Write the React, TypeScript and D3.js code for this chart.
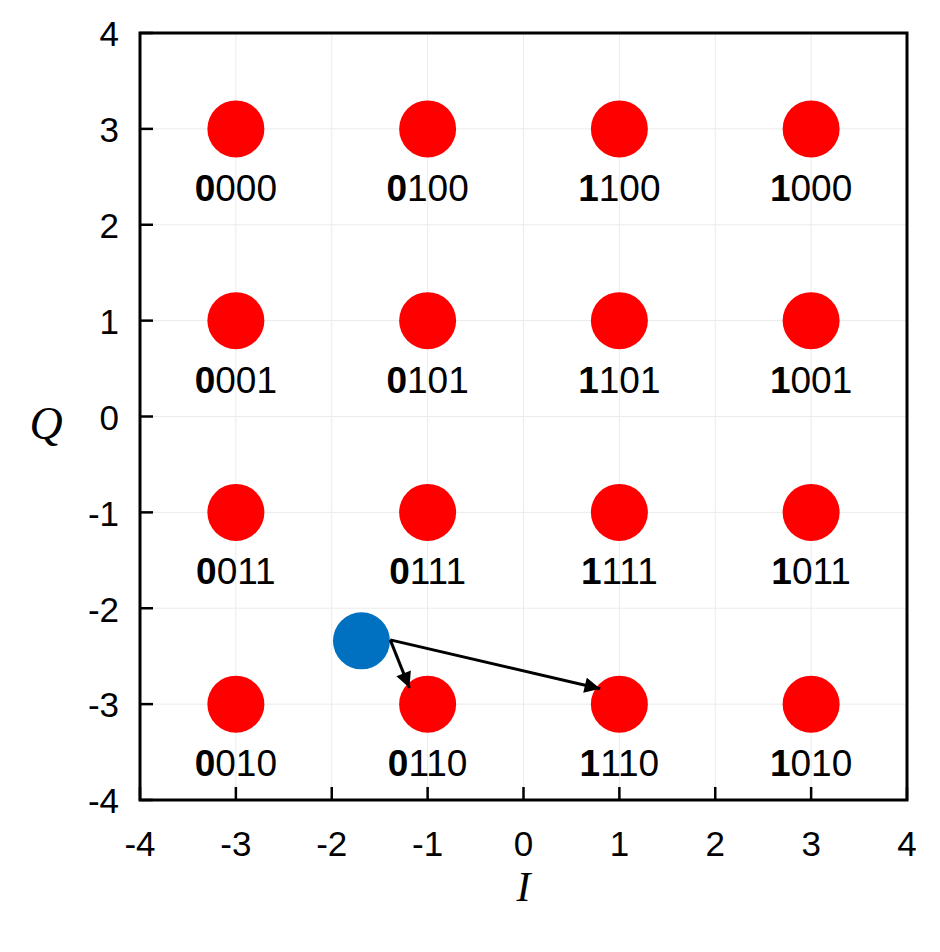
import * as d3 from "d3";

// constellation grid
const iLevels = [-3, -1, 1, 3];
const qLevels = [3, 1, -1, -3];
const bitLabels = [
  ["0000", "0100", "1100", "1000"],
  ["0001", "0101", "1101", "1001"],
  ["0011", "0111", "1111", "1011"],
  ["0010", "0110", "1110", "1010"],
];

// received symbol and the arrows to nearby points
const received = { i: -1.69, q: -2.34 };
const arrows = [
  { from: [-1.39, -2.33], to: [-1.19, -2.83] },
  { from: [-1.39, -2.33], to: [0.8, -2.84] },
];

const ticks = [-4, -3, -2, -1, 0, 1, 2, 3, 4];

export default function App() {
  const W = 940, H = 952;
  const x = d3.scaleLinear().domain([-4, 4]).range([140, 907]);
  const y = d3.scaleLinear().domain([-4, 4]).range([800, 33]);
  const r = 28.5;

  const points = qLevels.flatMap((q, row) =>
    iLevels.map((i, col) => ({ i, q, label: bitLabels[row][col] }))
  );

  return (
    <svg width={W} height={H} style={{ position: "absolute", left: 0, top: 0 }}
      fontFamily="'Liberation Sans', Arial, sans-serif">
      <defs>
        <marker id="head" viewBox="0 0 10 10" refX="10" refY="5"
          markerWidth="6" markerHeight="5.2" orient="auto" markerUnits="strokeWidth">
          <path d="M0,0 L10,5 L0,10 z" fill="#000" />
        </marker>
      </defs>
      <rect width={W} height={H} fill="#fff" />
      {/* grid */}
      {ticks.map(t => (
        <g key={"g" + t}>
          <line x1={x(t)} x2={x(t)} y1={y(4)} y2={y(-4)} stroke="#ebebeb" strokeWidth={1} />
          <line x1={x(-4)} x2={x(4)} y1={y(t)} y2={y(t)} stroke="#ebebeb" strokeWidth={1} />
        </g>
      ))}
      {/* ticks */}
      {ticks.map(t => (
        <g key={"t" + t}>
          <line x1={x(t)} x2={x(t)} y1={y(-4)} y2={y(-4) - 13} stroke="#000" strokeWidth={2.5} />
          <line x1={x(-4)} x2={x(-4) + 13} y1={y(t)} y2={y(t)} stroke="#000" strokeWidth={2.5} />
          <text x={x(t)} y={y(-4) + 44} dy="0.35em" textAnchor="middle" fontSize={35}>{t}</text>
          <text x={x(-4) - 21} y={y(t) + 1} dy="0.35em" textAnchor="end" fontSize={35}>{t}</text>
        </g>
      ))}
      <rect x={x(-4)} y={y(4)} width={x(4) - x(-4)} height={y(-4) - y(4)}
        fill="none" stroke="#000" strokeWidth={3} />
      {/* constellation */}
      {points.map(p => (
        <g key={p.label}>
          <circle cx={x(p.i)} cy={y(p.q)} r={r} fill="#ff0000" />
          <text x={x(p.i)} y={y(p.q) + 72} textAnchor="middle" fontSize={37}>
            <tspan fontWeight="bold">{p.label[0]}</tspan>{p.label.slice(1)}
          </text>
        </g>
      ))}
      <circle cx={x(received.i)} cy={y(received.q)} r={r} fill="#0070c0" />
      {arrows.map((a, k) => (
        <line key={k} x1={x(a.from[0])} y1={y(a.from[1])} x2={x(a.to[0])} y2={y(a.to[1])}
          stroke="#000" strokeWidth={3} markerEnd="url(#head)" />
      ))}
      {/* axis titles */}
      <text x={x(0)} y={901} textAnchor="middle" fontSize={42} fontStyle="italic"
        fontFamily="'Liberation Serif', 'Times New Roman', serif">I</text>
      <text x={46} y={y(0) + 6} dy="0.35em" textAnchor="middle" fontSize={46} fontStyle="italic"
        fontFamily="'Liberation Serif', 'Times New Roman', serif">Q</text>
    </svg>
  );
}
